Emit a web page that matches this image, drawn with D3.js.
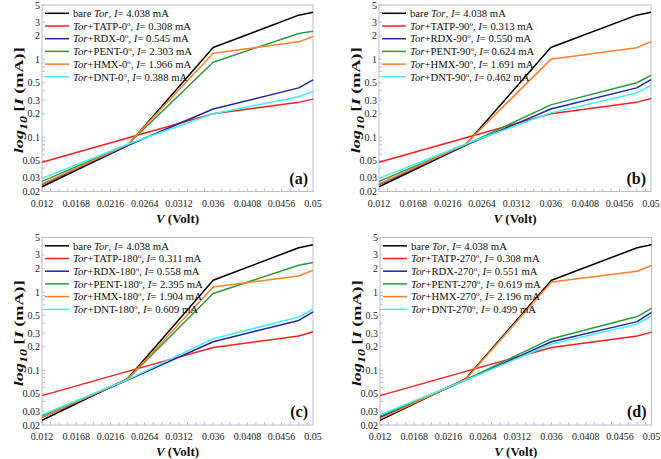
<!DOCTYPE html>
<html lang="en">
<head>
  <meta charset="UTF-8">
  <title>log I vs V, four orientations</title>
  <script src="https://d3js.org/d3.v7.min.js"></script>
  <style>
    body { margin: 0; background: #fff; }
    svg { display: block; font-family: "Liberation Serif", "Times New Roman", serif; }
    .frame { fill: none; stroke: #bcbcd4; stroke-width: 1; }
    .tick-mark { stroke: #bcbcd4; stroke-width: 1; }
    .tick-label { font-size: 10px; fill: #222; }
    .series { fill: none; stroke-width: 1.5; stroke-linejoin: round; }
    .legend-text { font-size: 10.7px; fill: #111; }
    .axis-title { font-size: 13px; font-weight: bold; fill: #111; }
    .panel-tag { font-size: 16px; font-weight: bold; fill: #111; }
  </style>
</head>
<body>
<svg id="chart" width="661" height="459"></svg>
<script>
  // x values (Volt) of each measured point
  const voltages = [0.012, 0.024, 0.036, 0.048, 0.05];

  // tick labels
  const xTicks = [0.012, 0.0168, 0.0216, 0.0264, 0.0312, 0.036, 0.0408, 0.0456, 0.05];
  const yTicks = [0.02, 0.03, 0.05, 0.1, 0.2, 0.3, 0.5, 1, 2, 3, 5];

  const analytes = ["TATP", "RDX", "PENT", "HMX", "DNT"];
  const angles = ["0", "90", "180", "270"];
  const panelTags = ["(a)", "(b)", "(c)", "(d)"];
  const colors = ["#000000", "#ff1f1f", "#2323a6", "#2b9b3b", "#ff7f2a", "#3ef4f4"];

  // current (mA), bare sensor (same in all panels)
  const bareTor = [0.023, 0.078, 1.42, 3.7, 4.038];

  // 0 deg
  const tatp0 = [0.0475, 0.0975, 0.2, 0.28, 0.308];
  const rdx0  = [0.0245, 0.078, 0.23, 0.43, 0.545];
  const pent0 = [0.027, 0.08, 0.92, 2.15, 2.303];
  const hmx0  = [0.025, 0.08, 1.2, 1.68, 1.966];
  const dnt0  = [0.0295, 0.081, 0.2, 0.33, 0.388];

  // 90 deg
  const tatp90 = [0.0475, 0.0975, 0.2, 0.28, 0.313];
  const rdx90  = [0.0245, 0.078, 0.23, 0.43, 0.550];
  const pent90 = [0.027, 0.079, 0.26, 0.5, 0.624];
  const hmx90  = [0.025, 0.08, 1.0, 1.41, 1.691];
  const dnt90  = [0.0295, 0.081, 0.205, 0.37, 0.462];

  // 180 deg
  const tatp180 = [0.0475, 0.097, 0.196, 0.275, 0.311];
  const rdx180  = [0.025, 0.075, 0.232, 0.435, 0.558];
  const pent180 = [0.026, 0.077, 0.96, 2.21, 2.395];
  const hmx180  = [0.025, 0.077, 1.16, 1.61, 1.904];
  const dnt180  = [0.027, 0.076, 0.254, 0.48, 0.609];

  // 270 deg
  const tatp270 = [0.0475, 0.097, 0.196, 0.275, 0.308];
  const rdx270  = [0.025, 0.075, 0.232, 0.42, 0.551];
  const pent270 = [0.026, 0.076, 0.254, 0.487, 0.619];
  const hmx270  = [0.024, 0.077, 1.35, 1.85, 2.196];
  const dnt270  = [0.027, 0.075, 0.217, 0.39, 0.499];

  const panelSeries = [
    [bareTor, tatp0, rdx0, pent0, hmx0, dnt0],
    [bareTor, tatp90, rdx90, pent90, hmx90, dnt90],
    [bareTor, tatp180, rdx180, pent180, hmx180, dnt180],
    [bareTor, tatp270, rdx270, pent270, hmx270, dnt270]
  ];

  // plot boxes (left, top, right, bottom)
  const boxes = [
    [42, 5, 313, 191.5],
    [379, 5, 651, 191.5],
    [42, 237.5, 313, 425],
    [380, 237.5, 651.5, 425]
  ];

  const svg = d3.select("#chart");
  svg.append("rect").attr("width", 661).attr("height", 459).attr("fill", "#fff");

  const fmt = d3.format(".3f");

  boxes.forEach((b, p) => {
    const [l, t, r, bt] = b;
    const x = d3.scaleLinear().domain([0.012, 0.05]).range([l, r]);
    const y = d3.scaleLog().domain([0.02, 5]).range([bt, t]);
    const g = svg.append("g");

    // minor ticks
    g.selectAll(".xminor")
      .data(d3.range(0, 32).map(i => 0.012 + i * 0.0012))
      .enter().append("line")
      .attr("class", "tick-mark")
      .attr("x1", d => x(d)).attr("x2", d => x(d))
      .attr("y1", bt).attr("y2", bt - 3);

    const yMinor = [];
    [0.01, 0.1, 1].forEach(dec => {
      for (let k = 1; k <= 9; k++) {
        const v = dec * k;
        if (v >= 0.02 && v <= 5) yMinor.push(v);
      }
    });
    g.selectAll(".yminor")
      .data(yMinor)
      .enter().append("line")
      .attr("class", "tick-mark")
      .attr("x1", l).attr("x2", l + 3)
      .attr("y1", d => y(d)).attr("y2", d => y(d));

    g.append("rect").attr("class", "frame")
      .attr("x", l).attr("y", t).attr("width", r - l).attr("height", bt - t);

    // tick labels
    g.selectAll(".xlab")
      .data(xTicks)
      .enter().append("text")
      .attr("class", "tick-label")
      .attr("x", d => x(d))
      .attr("y", bt + 15)
      .attr("text-anchor", "middle")
      .text(d => d);

    g.selectAll(".ylab")
      .data(yTicks)
      .enter().append("text")
      .attr("class", "tick-label")
      .attr("x", l - 2)
      .attr("y", d => y(d))
      .attr("dy", "0.35em")
      .attr("text-anchor", "end")
      .text(d => d);

    // axis titles
    const xt = g.append("text").attr("class", "axis-title")
      .attr("x", (l + r) / 2).attr("y", bt + 31)
      .attr("text-anchor", "middle");
    xt.append("tspan").attr("font-style", "italic").text("V");
    xt.append("tspan").text(" (Volt)");

    const yt = g.append("text").attr("class", "axis-title")
      .attr("transform", `translate(${l - 19},${(t + bt) / 2 + 2}) rotate(-90)`)
      .attr("text-anchor", "middle")
      .attr("font-size", "15px")
      .attr("textLength", 106)
      .attr("lengthAdjust", "spacingAndGlyphs");
    yt.append("tspan").attr("font-style", "italic").text("log");
    yt.append("tspan").attr("font-style", "italic").attr("font-size", "10px").attr("dy", 4).text("10");
    yt.append("tspan").attr("dy", -4).text(" [");
    yt.append("tspan").attr("font-style", "italic").text("I");
    yt.append("tspan").text(" (mA)]");

    // series
    const line = d3.line()
      .x((d, i) => x(voltages[i]))
      .y(d => y(d));

    g.selectAll(".series")
      .data(panelSeries[p])
      .enter().append("path")
      .attr("class", "series")
      .attr("stroke", (d, i) => colors[i])
      .attr("d", line);

    // legend
    panelSeries[p].forEach((s, i) => {
      const ly = t + 8.3 + i * 12.7;
      g.append("line")
        .attr("x1", l + 3).attr("x2", l + 27)
        .attr("y1", ly).attr("y2", ly)
        .attr("stroke", colors[i]).attr("stroke-width", 1.5);
      const tx = g.append("text").attr("class", "legend-text")
        .attr("x", l + 31).attr("y", ly).attr("dy", "0.35em");
      const iVal = fmt(s[s.length - 1]);
      if (i === 0) {
        tx.append("tspan").text("bare ");
        tx.append("tspan").attr("font-style", "italic").text("Tor");
        tx.append("tspan").text(", ");
      } else {
        tx.append("tspan").attr("font-style", "italic").text("Tor");
        tx.append("tspan").text("+" + analytes[i - 1] + "-" + angles[p]);
        tx.append("tspan").attr("font-size", "7px").attr("dy", -4).text("o");
        tx.append("tspan").attr("dy", 4).text(", ");
      }
      tx.append("tspan").attr("font-style", "italic").text("I");
      tx.append("tspan").text("= " + iVal + " mA");
    });

    g.append("text").attr("class", "panel-tag")
      .attr("x", r - 5).attr("y", bt - 8)
      .attr("text-anchor", "end")
      .text(panelTags[p]);
  });
</script>
</body>
</html>
